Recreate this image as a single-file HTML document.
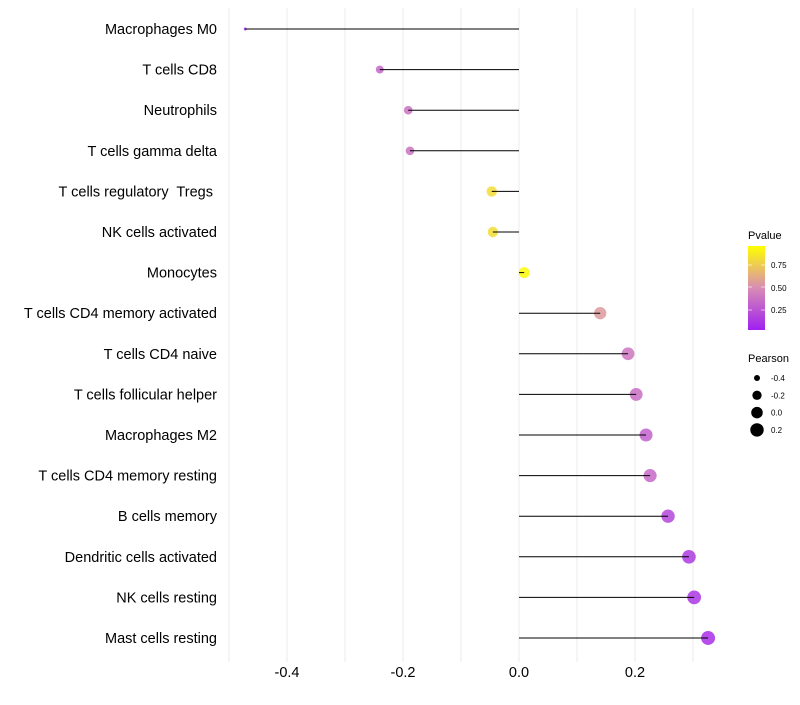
<!DOCTYPE html>
<html><head><meta charset="utf-8"><style>
body{margin:0;background:#fff;font-family:"Liberation Sans",sans-serif}
text{white-space:pre}
</style></head><body>
<svg id="chart" width="800" height="700" xmlns="http://www.w3.org/2000/svg" font-family="Liberation Sans, sans-serif">
<g id="grid"></g>
<g id="marks"></g>
<g id="ylab"></g>
<g id="xlab"></g>
<g>
<defs><linearGradient id="pg" x1="0" y1="1" x2="0" y2="0">
<stop offset="0" stop-color="#a020f0"/><stop offset="0.5" stop-color="#d88cb4"/><stop offset="1" stop-color="#ffff00"/></linearGradient></defs>
<text x="748" y="239" font-size="11" fill="#000">Pvalue</text>
<rect x="748" y="246" width="17" height="84" fill="url(#pg)"/>
<g font-size="8" fill="#000"><text x="771" y="268">0.75</text><text x="771" y="291">0.50</text><text x="771" y="313">0.25</text></g>
<g stroke="#fff" stroke-opacity="0.6"><line x1="748" y1="265" x2="752" y2="265"/><line x1="761" y1="265" x2="765" y2="265"/><line x1="748" y1="287" x2="752" y2="287"/><line x1="761" y1="287" x2="765" y2="287"/><line x1="748" y1="310" x2="752" y2="310"/><line x1="761" y1="310" x2="765" y2="310"/></g>
</g>
<g>
<text x="748" y="362" font-size="11" fill="#000">Pearson</text>
<g id="sizeleg"></g>
</g>
</svg>
<script>
const categories=["Macrophages M0","T cells CD8","Neutrophils","T cells gamma delta","T cells regulatory  Tregs ","NK cells activated","Monocytes","T cells CD4 memory activated","T cells CD4 naive","T cells follicular helper","Macrophages M2","T cells CD4 memory resting","B cells memory","Dendritic cells activated","NK cells resting","Mast cells resting"];
const pearson=[-0.472,-0.240,-0.191,-0.188,-0.047,-0.045,0.009,0.140,0.188,0.202,0.219,0.226,0.257,0.293,0.302,0.326];
const pvalues=[0.02,0.32,0.38,0.38,0.85,0.85,0.98,0.56,0.40,0.36,0.30,0.34,0.18,0.12,0.10,0.07];
const xTicks=[-0.4,-0.2,0.0,0.2];
const xTickLabels=["-0.4","-0.2","0.0","0.2"];
const gridVals=[-0.5,-0.4,-0.3,-0.2,-0.1,0,0.1,0.2,0.3];
const sizeLegendVals=[-0.4,-0.2,0.0,0.2];
const sizeLegendLabels=["-0.4","-0.2","0.0","0.2"];
const NS="http://www.w3.org/2000/svg";
const x=v=>519+v*580;
const y=i=>29+i*(638-29)/15;
const r=v=>Math.sqrt(Math.max(1,29.7+58.4*v));
function hex(h){return [1,3,5].map(k=>parseInt(h.substr(k,2),16));}
const stops=[[0,hex("#a020f0")],[0.5,hex("#d88cb4")],[1,hex("#ffff00")]];
function col(p){let a=stops[0],b=stops[1];if(p>0.5){a=stops[1];b=stops[2];}
const t=(p-a[0])/(b[0]-a[0]);const c=a[1].map((v,k)=>Math.round(v+(b[1][k]-v)*t));return `rgb(${c})`;}
function mk(tag,at,parent){const e=document.createElementNS(NS,tag);for(const k in at)e.setAttribute(k,at[k]);parent.appendChild(e);return e;}
const grid=document.getElementById('grid'),marks=document.getElementById('marks'),ylab=document.getElementById('ylab'),xlab=document.getElementById('xlab'),sl=document.getElementById('sizeleg');
gridVals.forEach(v=>{const l=mk('line',{x1:x(v),x2:x(v),y1:8,y2:662,stroke:'#ebebeb','stroke-width':1},grid);

});
categories.forEach((c,i)=>{
const cy=y(i);
const dot=mk('circle',{cx:x(pearson[i]),cy:cy,r:r(pearson[i]),fill:col(pvalues[i]),'fill-opacity':0.85},marks);


const seg=mk('line',{x1:x(0),x2:x(pearson[i]),y1:cy,y2:cy,stroke:'#000','stroke-width':1},marks);


const t=mk('text',{x:217,y:cy+5,'text-anchor':'end','font-size':14.5,fill:'#000'},ylab);t.textContent=c;


});
xTicks.forEach((v,i)=>{const t=mk('text',{x:x(v),y:677,'text-anchor':'middle','font-size':14.5,fill:'#000'},xlab);t.textContent=xTickLabels[i];

});
sizeLegendVals.forEach((v,i)=>{const cy=378+i*17.3;
const c=mk('circle',{cx:757,cy:cy,r:r(v)*0.95+0.6,fill:'#000'},sl);


const t=mk('text',{x:771,y:cy+3,'font-size':8,fill:'#000'},sl);t.textContent=sizeLegendLabels[i];

});
</script>
</body></html>
